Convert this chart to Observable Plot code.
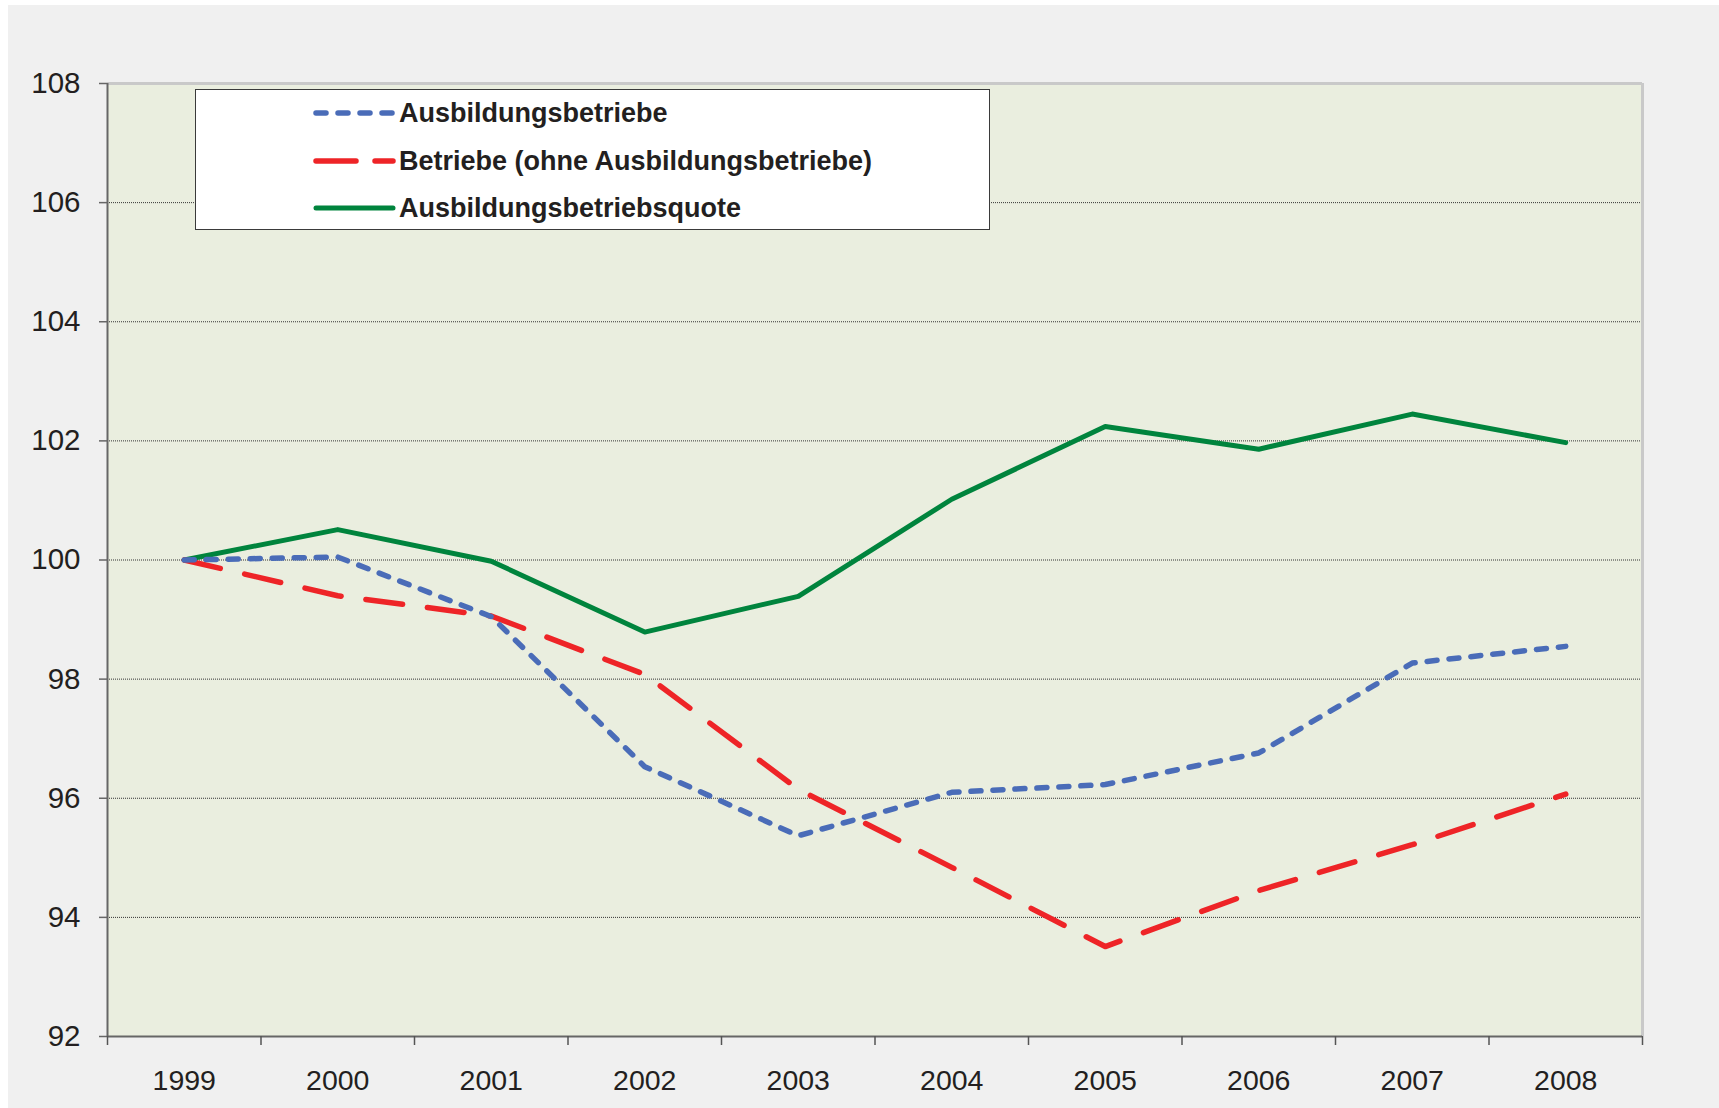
<!DOCTYPE html>
<html>
<head>
<meta charset="utf-8">
<script src="https://cdn.jsdelivr.net/npm/d3@7"></script>
<script src="https://cdn.jsdelivr.net/npm/@observablehq/plot@0.6"></script>
<style>
  html, body { margin: 0; padding: 0; background: #ffffff; }
  #wrap { position: relative; width: 1719px; height: 1108px; }
  #panel { position: absolute; left: 8px; top: 5px; width: 1711px; height: 1103px; background: #f0f0f0; }
  #chart { position: absolute; left: 0; top: 0; }
  #legend { position: absolute; left: 195px; top: 89px; width: 793px; height: 139px;
            background: #ffffff; border: 1px solid #3a3a3a; }
  .item { position: absolute; left: 117px; height: 40px; display: flex; align-items: center;
          font-family: "Liberation Sans", Arial, sans-serif; font-weight: bold; font-size: 27px; color: #231f20; }
  .item svg { margin-right: 2px; }
</style>
</head>
<body>
<div id="wrap">
  <div id="panel"></div>
  <div id="chart"></div>
  <div id="legend"></div>
</div>
<script>
// ---- Data ----
const years = [1999, 2000, 2001, 2002, 2003, 2004, 2005, 2006, 2007, 2008];
const ausbildungsbetriebe = [100, 100.05, 99.05, 96.53, 95.37, 96.10, 96.23, 96.76, 98.27, 98.55];
const betriebeOhne = [100, 99.40, 99.06, 98.08, 96.15, 94.84, 93.51, 94.45, 95.22, 96.07];
const quote = [100, 100.51, 99.98, 98.79, 99.39, 101.02, 102.24, 101.86, 102.45, 101.97];
const seriesNames = ["Ausbildungsbetriebe", "Betriebe (ohne Ausbildungsbetriebe)", "Ausbildungsbetriebsquote"];
const yTicks = [92, 94, 96, 98, 100, 102, 104, 106, 108];

// ---- Styles ----
const styles = {
  "Ausbildungsbetriebe": {stroke: "#4a6cb8", strokeWidth: 5.5, dash: "10,12"},
  "Betriebe (ohne Ausbildungsbetriebe)": {stroke: "#ee2427", strokeWidth: 5.5, dash: "37,25"},
  "Ausbildungsbetriebsquote": {stroke: "#00843d", strokeWidth: 5, dash: null}
};

const rows = [];
[ausbildungsbetriebe, betriebeOhne, quote].forEach((vals, i) => {
  vals.forEach((v, j) => rows.push({series: seriesNames[i], year: years[j], value: v}));
});

const xMin = years[0] - 0.5, xMax = years[years.length - 1] + 0.5;
const boundaries = years.map(y => y - 0.5).concat([xMax]);
const yMin = yTicks[0], yMax = yTicks[yTicks.length - 1];
const gridTicks = yTicks.slice(1, -1);

function lineFor(name) {
  const s = styles[name];
  return Plot.line(rows.filter(r => r.series === name), {
    x: "year", y: "value", stroke: s.stroke, strokeWidth: s.strokeWidth,
    strokeDasharray: s.dash || undefined, strokeLinecap: "round", strokeLinejoin: "round"
  });
}

const chart = Plot.plot({
  width: 1719,
  height: 1108,
  marginLeft: 107,
  marginRight: 77,
  marginTop: 83,
  marginBottom: 72,
  style: {background: "transparent", fontFamily: "'Liberation Sans', Arial, sans-serif", color: "#231f20"},
  x: {type: "linear", domain: [xMin, xMax]},
  y: {type: "linear", domain: [yMin, yMax]},
  marks: [
    Plot.frame({fill: "#eaeedf", stroke: "none"}),
    Plot.gridY(gridTicks, {stroke: "#333", strokeOpacity: 1, strokeWidth: 1, strokeDasharray: "1,1"}),
    Plot.ruleY([yMax], {stroke: "#c9c9c9", strokeWidth: 3}),
    Plot.ruleX([xMax], {stroke: "#c9c9c9", strokeWidth: 3}),
    Plot.ruleX([xMin], {stroke: "#666", strokeWidth: 2}),
    Plot.ruleY([yMin], {stroke: "#666", strokeWidth: 2}),
    Plot.axisY(yTicks, {tickSize: 8, tickPadding: 19, fontSize: 29.5, stroke: "#666", strokeWidth: 1.5, label: null, tickFormat: d => String(d)}),
    Plot.axisX(boundaries, {tickSize: 9, tickFormat: () => "", stroke: "#555", strokeWidth: 1.5, label: null}),
    Plot.axisX(years, {tickSize: 0, tickPadding: 33, fontSize: 28.5, label: null, tickFormat: d => String(d)}),
    lineFor("Ausbildungsbetriebsquote"),
    lineFor("Betriebe (ohne Ausbildungsbetriebe)"),
    lineFor("Ausbildungsbetriebe")
  ]
});
document.getElementById("chart").appendChild(chart);

// ---- Legend ----
const legend = document.getElementById("legend");
const rowsY = [3, 51, 98];
seriesNames.forEach((name, i) => {
  const s = styles[name];
  const div = document.createElement("div");
  div.className = "item";
  div.style.top = rowsY[i] + "px";
  const sw = d3.create("svg").attr("width", 84).attr("height", 12);
  sw.append("line").attr("x1", 3).attr("x2", 80).attr("y1", 6).attr("y2", 6)
    .attr("stroke", s.stroke).attr("stroke-width", s.strokeWidth)
    .attr("stroke-linecap", "round")
    .attr("stroke-dasharray", s.dash === "37,25" ? "40,19" : (s.dash || null));
  div.appendChild(sw.node());
  const t = document.createElement("span");
  t.textContent = name;
  div.appendChild(t);
  legend.appendChild(div);
});
</script>
</body>
</html>
